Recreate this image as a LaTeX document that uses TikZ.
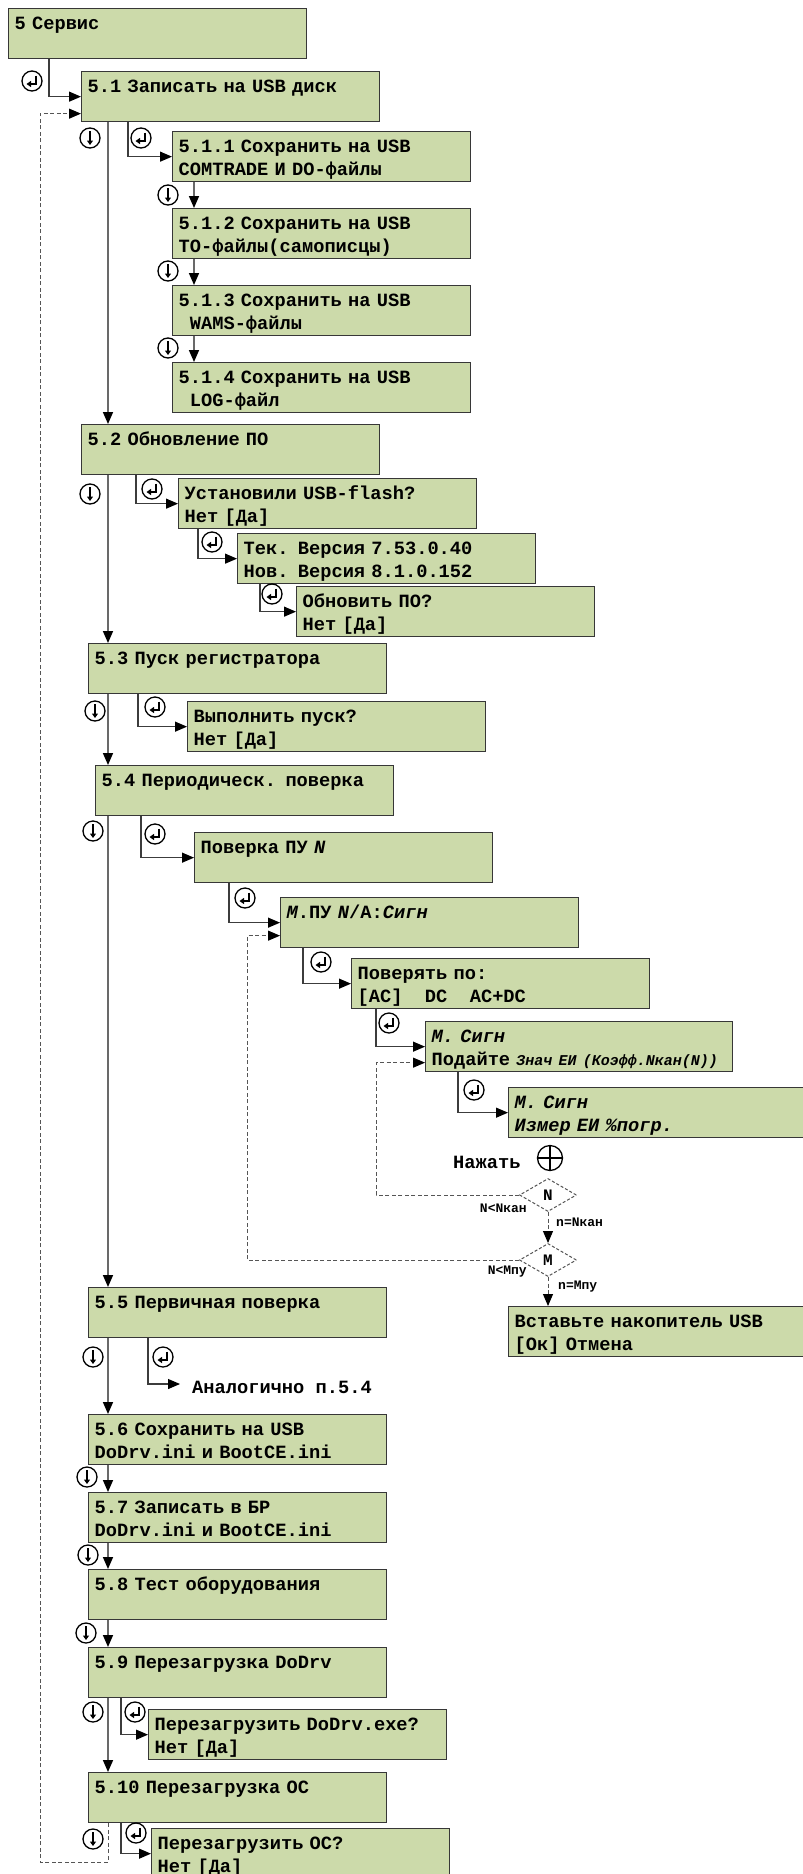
\documentclass[tikz,border=0pt]{standalone}
\usepackage{fontspec}
\newfontfamily\monof[WordSpace={1,0,0}]{Liberation Mono}
\usetikzlibrary{arrows.meta,shapes.geometric,calc}
\definecolor{boxfill}{RGB}{204,218,170}
\definecolor{boxline}{RGB}{55,55,55}
\definecolor{mainline}{RGB}{105,105,105}
\definecolor{brline}{RGB}{60,60,60}
\definecolor{dashline}{RGB}{85,85,85}
\tikzset{
 box/.style={draw=boxline, fill=boxfill, line width=1.3pt, anchor=north west,
   inner xsep=6pt, inner ysep=0pt, text width=286pt, minimum height=50pt,
   text height=21pt, text depth=29pt, align=left,
   font=\monof\bfseries\fontsize{18.7}{23}\selectfont},
 tipa/.style={-{Triangle[length=12pt,width=10pt,black]}},
 mainln/.style={draw=mainline, line width=1.6pt, tipa},
 brln/.style={draw=brline, line width=1.2pt, tipa},
 dashln/.style={draw=dashline, line width=1pt, dash pattern=on 4pt off 2.5pt},
 txt/.style={inner sep=0pt, font=\monof\bfseries\fontsize{18.7}{23}\selectfont},
 lbl/.style={inner sep=0pt, font=\monof\bfseries\fontsize{13}{15}\selectfont},
 entsym/.style={circle, draw=black, line width=1.3pt, minimum size=20pt, inner sep=0pt, fill=white,
   path picture={\draw[line width=1.5pt,-{Triangle[length=4.5pt,width=6pt]}]
     ($(path picture bounding box.center)+(4pt,5.5pt)$) -- ++(0pt,-8.5pt) -- ++(-9.5pt,0pt);}},
 dnsym/.style={circle, draw=black, line width=1.3pt, minimum size=20pt, inner sep=0pt, fill=white,
   path picture={\draw[line width=1.5pt,-{Triangle[length=4.5pt,width=6pt]}]
     ($(path picture bounding box.center)+(0pt,7pt)$) -- ++(0pt,-14pt);}},
 plussym/.style={circle, draw=black, line width=1.3pt, minimum size=25pt, inner sep=0pt,
   path picture={\draw[line width=1.3pt] (path picture bounding box.north) -- (path picture bounding box.south)
     (path picture bounding box.west) -- (path picture bounding box.east);}},
 dgm/.style={diamond, draw=dashline, line width=1pt, dash pattern=on 3pt off 2pt,
   minimum width=57pt, minimum height=33pt, inner sep=0pt,
   font=\monof\bfseries\fontsize{16}{16}\selectfont},
}
\begin{document}
\begin{tikzpicture}[x=1pt,y=-1pt]
\useasboundingbox (0,0) rectangle (803,1874);
\fill[white] (0,0) rectangle (803,1874);
\coordinate (mx) at (108,0);

% boxes
\node[box] (A0) at (8,8) {5 Сервис};
\node[box] (A1) at (81,71) {5.1 Записать на USB диск};
\node[box] (A11) at (172,131) {5.1.1 Сохранить на USB\\COMTRADE И DO-файлы};
\node[box] (A12) at (172,208) {5.1.2 Сохранить на USB\\ТО-файлы(самописцы)};
\node[box] (A13) at (172,285) {5.1.3 Сохранить на USB\\\hspace*{0.6em}WAMS-файлы};
\node[box] (A14) at (172,362) {5.1.4 Сохранить на USB\\\hspace*{0.6em}LOG-файл};
\node[box] (A2) at (81,424) {5.2 Обновление ПО};
\node[box] (A21) at (178,478) {Установили USB-flash?\\Нет [Да]};
\node[box] (A22) at (237,533) {Тек. Версия 7.53.0.40\\Нов. Версия 8.1.0.152};
\node[box] (A23) at (296,586) {Обновить ПО?\\Нет [Да]};
\node[box] (A3) at (88,643) {5.3 Пуск регистратора};
\node[box] (A31) at (187,701) {Выполнить пуск?\\Нет [Да]};
\node[box] (A4) at (95,765) {5.4 Периодическ. поверка};
\node[box] (A41) at (194,832) {Поверка ПУ \textit{N}};
\node[box] (A42) at (280,897) {\textit{М}.ПУ \textit{N}/A:\textit{Сигн}};
\node[box] (A43) at (351,958) {Поверять по:\\{}[AC]\hspace{1.2em}DC\hspace{1.2em}AC+DC};
\node[box, text width=295pt] (A44) at (425,1021) {\textit{М. Сигн}\\Подайте {\fontsize{15}{23}\selectfont\itshape Знач ЕИ (Коэфф.Nкан(N))}};
\node[box, text width=300pt] (A45) at (508,1087) {\textit{М. Сигн}\\\textit{Измер ЕИ \%погр.}};
\node[box, text width=300pt] (A46) at (508,1306) {Вставьте накопитель USB\\{}[Ок] Отмена};
\node[box] (A5) at (88,1287) {5.5 Первичная поверка};
\node[box] (A6) at (88,1414) {5.6 Сохранить на USB\\DoDrv.ini и BootCE.ini};
\node[box] (A7) at (88,1492) {5.7 Записать в БР\\DoDrv.ini и BootCE.ini};
\node[box] (A8) at (88,1569) {5.8 Тест оборудования};
\node[box] (A9) at (88,1647) {5.9 Перезагрузка DoDrv};
\node[box] (A91) at (148,1709) {Перезагрузить DoDrv.exe?\\Нет [Да]};
\node[box] (A10) at (88,1772) {5.10 Перезагрузка ОС};
\node[box] (A101) at (151,1828) {Перезагрузить ОС?\\Нет [Да]};

% free texts and decisions
\node[txt, anchor=west] (T5) at (192,1387) {Аналогично п.5.4};
\node[txt, anchor=west] (PR) at (453,1162) {Нажать};
\node[plussym] (PL) at (550,1158) {};
\node[dgm] (DN) at (548,1195) {N};
\node[dgm] (DM) at (548,1260) {M};
\node[lbl, anchor=east] (LN1) at (527,1208) {N<Nкан};
\node[lbl, anchor=west] (LN2) at (556,1222) {n=Nкан};
\node[lbl, anchor=east] (LM1) at (527,1272) {N<Mпу};
\node[lbl, anchor=west] (LM2) at (558,1287) {n=Mпу};

% main vertical line
\draw[mainln] (A1.south -| mx) -- (A2.north -| mx);
\draw[mainln] (A2.south -| mx) -- (A3.north -| mx);
\draw[mainln] (A3.south -| mx) -- (A4.north -| mx);
\draw[mainln] (A4.south -| mx) -- (A5.north -| mx);
\draw[mainln] (A5.south -| mx) -- (A6.north -| mx);
\draw[mainln] (A6.south -| mx) -- (A7.north -| mx);
\draw[mainln] (A7.south -| mx) -- (A8.north -| mx);
\draw[mainln] (A8.south -| mx) -- (A9.north -| mx);
\draw[mainln] (A9.south -| mx) -- (A10.north -| mx);
\draw[mainln] ([xshift=22pt]A11.south west) -- ([xshift=22pt]A11.south west |- A12.north);
\draw[mainln] ([xshift=22pt]A12.south west) -- ([xshift=22pt]A12.south west |- A13.north);
\draw[mainln] ([xshift=22pt]A13.south west) -- ([xshift=22pt]A13.south west |- A14.north);

% branches
\draw[brln] ([xshift=41pt]A0.south west) |- (A1.west);
\draw[brln] ([xshift=47pt]A1.south west) |- (A11.west);
\draw[brln] ([xshift=55pt]A2.south west) |- (A21.west);
\draw[brln] ([xshift=20pt]A21.south west) |- (A22.west);
\draw[brln] ([xshift=23pt]A22.south west) |- (A23.west);
\draw[brln] ([xshift=50pt]A3.south west) |- (A31.west);
\draw[brln] ([xshift=46pt]A4.south west) |- (A41.west);
\draw[brln] ([xshift=35pt]A41.south west) |- (A42.west);
\draw[brln] ([xshift=23pt]A42.south west) |- (A43.west);
\draw[brln] ([xshift=25pt]A43.south west) |- (A44.west);
\draw[brln] ([xshift=33pt]A44.south west) |- (A45.west);
\draw[brln] ([xshift=60pt]A5.south west) |- ($(T5.west)+(-12pt,3pt)$);
\draw[brln] ([xshift=33pt]A9.south west) |- (A91.west);
\draw[brln] ([xshift=33pt]A10.south west) |- (A101.west);

% dashed loops
\coordinate (lp) at (40,1862);
\draw[dashln, tipa] (A10.south -| mx) |- (lp) |- ([yshift=-17pt]A1.west);
\draw[dashln, tipa] (DN.west) -| ($(A44.west)+(-49pt,-16pt)$) -- ([yshift=-16pt]A44.west);
\draw[dashln, tipa] (DM.west) -| ($(A42.west)+(-33pt,-13pt)$) -- ([yshift=-13pt]A42.west);
\draw[dashln, tipa] (DN.south) -- (DM.north);
\draw[dashln, tipa] (DM.south) -- (DM.south |- A46.north);

% symbols
\node[entsym] (e0) at (32,81) {};
\node[entsym] (e1) at (141,138) {};
\node[entsym] (e2) at (152,489) {};
\node[entsym] (e3) at (212,542) {};
\node[entsym] (e4) at (272,594) {};
\node[entsym] (e5) at (155,707) {};
\node[entsym] (e6) at (155,834) {};
\node[entsym] (e7) at (245,898) {};
\node[entsym] (e8) at (321,962) {};
\node[entsym] (e9) at (389,1023) {};
\node[entsym] (e10) at (474,1090) {};
\node[entsym] (e11) at (163,1357) {};
\node[entsym] (e12) at (135,1712) {};
\node[entsym] (e13) at (136,1833) {};
\node[dnsym] (d1) at (90,138) {};
\node[dnsym] (d2) at (168,195) {};
\node[dnsym] (d3) at (168,271) {};
\node[dnsym] (d4) at (168,348) {};
\node[dnsym] (d5) at (90,494) {};
\node[dnsym] (d6) at (95,711) {};
\node[dnsym] (d7) at (93,831) {};
\node[dnsym] (d8) at (93,1357) {};
\node[dnsym] (d9) at (87,1477) {};
\node[dnsym] (d10) at (88,1555) {};
\node[dnsym] (d11) at (86,1633) {};
\node[dnsym] (d12) at (93,1712) {};
\node[dnsym] (d13) at (93,1839) {};
\end{tikzpicture}
\end{document}
